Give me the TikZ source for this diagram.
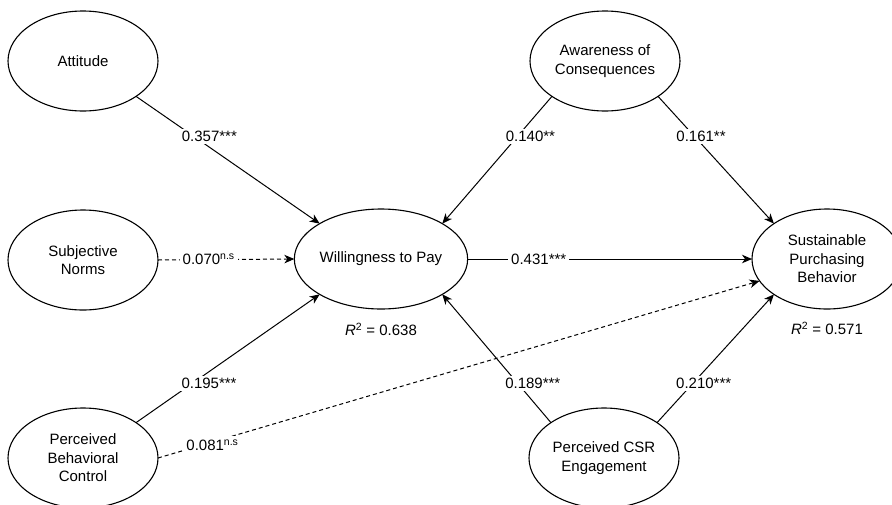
\documentclass[tikz,border=0pt]{standalone}
\usepackage{fontspec}
\setmainfont{Liberation Sans}
\usetikzlibrary{shapes.geometric,arrows.meta}
\newcommand{\diafont}{\fontsize{15}{18.5}\selectfont}
\tikzset{
  lv/.style={ellipse, draw, line width=1.1pt, minimum width=150pt, minimum height=100pt,
    inner sep=0pt, outer sep=0pt, align=center, font=\diafont},
  arr/.style={line width=1pt, -{Stealth[length=10pt,width=8.5pt,inset=3pt]}},
  nsarr/.style={arr, dash pattern=on 4pt off 3pt},
  lbl/.style={fill=white, inner xsep=3pt, inner ysep=2pt, text height=10.5pt, text depth=0pt, font=\diafont},
  nslbl/.style={lbl, text height=12pt, yshift=0.75pt},
  rlbl/.style={inner sep=2pt, text height=10.5pt, text depth=0pt, font=\diafont}
}
\begin{document}
\begin{tikzpicture}[x=1pt,y=-1pt]
\useasboundingbox (0,0) rectangle (892,504);
\clip (0,0) rectangle (892,504);
\fill[white] (0,0) rectangle (892,504);

\node[lv] (att) at (83,61) {Attitude};
\node[lv] (aoc) at (605,61) {Awareness of\\Consequences};
\node[lv] (sn) at (83,260) {Subjective\\Norms};
\node[lv] (wtp) at (381,259) {Willingness to Pay};
\node[lv] (spb) at (827,259) {Sustainable\\Purchasing\\Behavior};
\node[lv] (pbc) at (83,458) {Perceived\\Behavioral\\Control};
\node[lv] (csr) at (604,458) {Perceived CSR\\Engagement};

\node[rlbl] (r2a) at (381,330) {\textit{R}\textsuperscript{2} = 0.638};
\node[rlbl] (r2b) at (827,329.5) {\textit{R}\textsuperscript{2} = 0.571};

\draw[arr] (att.south east) -- node[lbl,pos=0.315,xshift=15.5pt] (l1) {0.357***} (wtp.north west);
\draw[arr] (aoc.south west) -- node[lbl,pos=0.315,xshift=13pt] (l2) {0.140**} (wtp.north east);
\draw[arr] (aoc.south east) -- node[lbl,pos=0.315,xshift=6.5pt] (l3) {0.161**} (spb.north west);
\draw[nsarr] (sn.east) -- node[nslbl,pos=0.372] (l4) {0.070\textsuperscript{n.s}} (wtp.west);
\draw[arr] (wtp.east) -- node[lbl,pos=0.25] (l5) {0.431***} (spb.west);
\draw[arr] (pbc.north east) -- node[lbl,pos=0.305,xshift=17pt] (l6) {0.195***} (wtp.south west);
\draw[nsarr] (pbc.east) -- node[nslbl,pos=0.0905,yshift=-3pt] (l7) {0.081\textsuperscript{n.s}} (spb.198);
\draw[arr] (csr.north west) -- node[lbl,pos=0.305,xshift=15pt] (l8) {0.189***} (wtp.south east);
\draw[arr] (csr.north east) -- node[lbl,pos=0.305,xshift=11pt] (l9) {0.210***} (spb.south west);
\end{tikzpicture}
\end{document}
